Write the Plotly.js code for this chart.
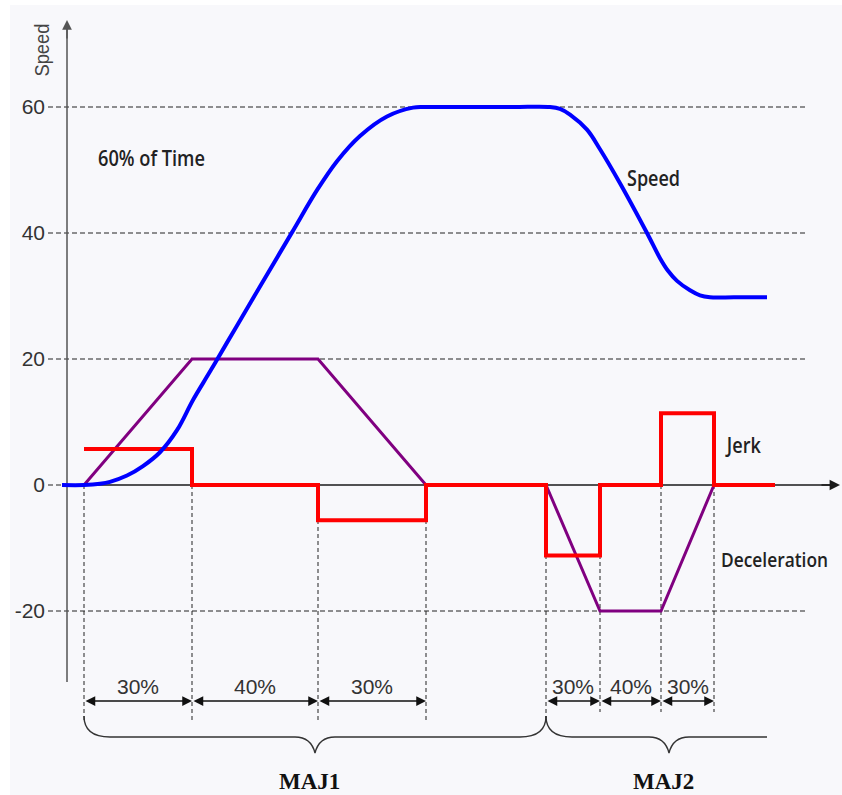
<!DOCTYPE html>
<html>
<head>
<meta charset="utf-8">
<script src="https://cdn.plot.ly/plotly-3.0.1.min.js"></script>
<style>html,body{margin:0;padding:0;background:#fff;}#chart{width:842px;height:795px;}</style>
</head>
<body>
<div id="chart"></div>
<script>
// ---- data (time in arbitrary units) ----
const phaseBounds = [0, 108, 234, 342, 462, 516, 577, 630];
const tEnd = 691;
const jerk = [5.7, 0, -5.6, 0, -11.2, 0, 11.4, 0];
const accel = [0, 20, 20, 0, 0, -20, -20, 0];
const speedT = [-22, 0, 16, 26, 43, 59, 76, 93, 109, 126, 143, 166, 176, 208, 233, 253, 276, 303, 329, 340, 380, 430, 466, 476, 486, 503, 516, 536, 563, 576, 584, 593, 606, 616, 626, 650, 683];
const speedV = [0, 0, 0.2, 0.5, 1.5, 3.0, 5.2, 8.7, 13.5, 18, 22.6, 28.8, 31.5, 40.1, 46.8, 51.4, 55.4, 58.5, 59.9, 60, 60, 60, 60, 59.7, 58.8, 56.4, 53.3, 47.9, 40, 36.0, 34.0, 32.4, 30.9, 30.1, 29.8, 29.8, 29.8];
const phaseStart = [0, 108, 234, 462, 516, 577];
const phaseEnd = [108, 234, 342, 516, 577, 630];
const phaseLabel = ['30%', '40%', '30%', '30%', '40%', '30%'];
const groupName = ['MAJ1', 'MAJ2'];
const groupStart = [0, 462];
const groupCusp = [231, 585];
const groupEnd = [462, 683];
const groupCurlEnd = [true, false];
const yTicks = [-20, 0, 20, 40, 60];
const yTickText = ['-20', '0', '20', '40', '60'];
const curveLabels = ['60% of Time', 'Speed', 'Jerk', 'Deceleration'];

// ---- pixel helpers for decorations ----
const X = p => p - 84;
const Y = p => (485 - p) / 6.3;
const ML = 46;

const jerkX = phaseBounds.concat([tEnd]);
const jerkY = jerk.concat([jerk[jerk.length - 1]]);

const traces = [
  {x: phaseBounds, y: accel, mode: 'lines', line: {color: '#800080', width: 3}, hoverinfo: 'skip'},
  {x: jerkX, y: jerkY, mode: 'lines', line: {color: '#ff0000', width: 4, shape: 'hv'}, hoverinfo: 'skip'},
  {x: speedT, y: speedV, mode: 'lines', line: {color: '#0000ff', width: 4, shape: 'spline', smoothing: 1}, hoverinfo: 'skip'}
];

const shapes = [];
// background panel
shapes.push({type: 'rect', xref: 'paper', yref: 'paper', x0: (10 - ML) / (842 - ML), x1: 1, y0: 0, y1: 1 - 5 / 795,
  fillcolor: '#f8f8fb', line: {width: 0}, layer: 'below'});
// grid lines
yTicks.forEach(v => {
  if (v === 0) return;
  shapes.push({type: 'line', xref: 'x', yref: 'y', x0: X(48), x1: X(805), y0: v, y1: v,
    line: {color: '#222', width: 1, dash: '5px,3px'}, layer: 'below'});
});
// zero stub left of axis
shapes.push({type: 'line', xref: 'x', yref: 'y', x0: X(48), x1: X(67), y0: 0, y1: 0,
  line: {color: '#222', width: 1, dash: '5px,3px'}, layer: 'below'});
// axes lines
shapes.push({type: 'line', xref: 'x', yref: 'y', x0: X(67), x1: X(834), y0: 0, y1: 0,
  line: {color: '#1a1a1a', width: 1.6}, layer: 'below'});
shapes.push({type: 'line', xref: 'x', yref: 'y', x0: X(67), x1: X(67), y0: Y(682), y1: Y(28),
  line: {color: '#555', width: 1.5}, layer: 'below'});
// drop lines at phase boundaries
phaseBounds.forEach((t, i) => {
  const bottom = i < 5 ? (i === 4 ? 718 : 720) : 712;
  shapes.push({type: 'line', xref: 'x', yref: 'y', x0: t, x1: t, y0: 0, y1: Y(bottom),
    line: {color: '#222', width: 1, dash: '4px,3px'}, layer: 'below'});
});
// braces
function bracePath(t0, tc, t1, curl) {
  const yT = Y(716), yH = Y(737), yC = Y(753);
  let p = `M ${t0},${yT} Q ${t0},${yH} ${t0 + 26},${yH} L ${tc - 20},${yH} Q ${tc - 4},${yH} ${tc},${yC} Q ${tc + 4},${yH} ${tc + 20},${yH}`;
  if (curl) p += ` L ${t1 - 26},${yH} Q ${t1},${yH} ${t1},${yT}`;
  else p += ` L ${t1},${yH}`;
  return p;
}
groupName.forEach((g, i) => {
  shapes.push({type: 'path', xref: 'x', yref: 'y', path: bracePath(groupStart[i], groupCusp[i], groupEnd[i], groupCurlEnd[i]),
    line: {color: '#333', width: 1.4}, layer: 'below'});
});

const annotations = [];
const arrowStyle = {arrowcolor: '#111', arrowwidth: 1.5, arrowhead: 2, arrowsize: 1.3, startarrowhead: 2, startarrowsize: 1.3};
// axis arrow tips
annotations.push(Object.assign({}, arrowStyle, {x: X(840), y: 0, ax: X(820), ay: 0, xref: 'x', yref: 'y', axref: 'x', ayref: 'y',
  text: '', showarrow: true, arrowside: 'end', arrowcolor: '#1a1a1a', arrowwidth: 1.6}));
annotations.push(Object.assign({}, arrowStyle, {x: X(67), y: Y(20), ax: X(67), ay: Y(40), xref: 'x', yref: 'y', axref: 'x', ayref: 'y',
  text: '', showarrow: true, arrowside: 'end', arrowcolor: '#555', arrowwidth: 1.5}));
// phase arrows + labels
phaseLabel.forEach((lab, i) => {
  annotations.push(Object.assign({}, arrowStyle, {x: phaseEnd[i], y: Y(701), ax: phaseStart[i], ay: Y(701),
    xref: 'x', yref: 'y', axref: 'x', ayref: 'y', text: '', showarrow: true, arrowside: 'end+start', standoff: 0, startstandoff: 0}));
  annotations.push({x: (phaseStart[i] + phaseEnd[i]) / 2, y: Y(686), xref: 'x', yref: 'y', text: lab, showarrow: false,
    xanchor: 'center', yanchor: 'middle', font: {family: 'Liberation Sans, Arial, sans-serif', size: 21, color: '#333'}});
});
// group labels
groupName.forEach((g, i) => {
  annotations.push({x: groupCusp[i] - 6, y: Y(781), xref: 'x', yref: 'y', text: g, showarrow: false,
    xanchor: 'center', yanchor: 'middle', font: {family: 'Liberation Serif, Times New Roman, serif', size: 23, color: '#111', weight: 'bold'}});
});
// curve labels (centre x, centre y, target text width in px, font size)
const labelPos = [[151.5, 157, 107, 22], [653.5, 177, 53, 22], [743, 444, 34, 22], [774.5, 560, 107, 19]];
curveLabels.forEach((txt, i) => {
  annotations.push({x: X(labelPos[i][0]), y: Y(labelPos[i][1]), xref: 'x', yref: 'y', text: txt, showarrow: false,
    width: labelPos[i][2] + 6, align: 'center',
    xanchor: 'center', yanchor: 'middle', font: {family: 'Open Sans, sans-serif', size: labelPos[i][3], color: '#222', weight: 600}});
});
// y axis title
annotations.push({x: (42 - ML) / (842 - ML), y: Y(50), xref: 'paper', yref: 'y', text: 'Speed', textangle: -90, showarrow: false,
  xanchor: 'center', yanchor: 'middle', font: {family: 'Liberation Sans, Arial, sans-serif', size: 20, color: '#444'}});

const layout = {
  width: 842, height: 795,
  margin: {l: ML, r: 0, t: 0, b: 0, pad: 0},
  paper_bgcolor: '#ffffff', plot_bgcolor: 'rgba(0,0,0,0)',
  showlegend: false,
  xaxis: {range: [X(ML), X(842)], visible: false, fixedrange: true},
  yaxis: {range: [Y(795), Y(0)], tickvals: yTicks, ticktext: yTickText, showgrid: false, zeroline: false,
    showline: false, ticks: '', automargin: false, fixedrange: true,
    tickfont: {family: 'Liberation Sans, Arial, sans-serif', size: 21, color: '#333'}},
  shapes: shapes,
  annotations: annotations
};

Plotly.newPlot('chart', traces, layout, {displayModeBar: false, staticPlot: true}).then(gd => {
  // condense the curve labels to the narrow width seen in the reference
  const widths = {};
  curveLabels.forEach((t, i) => { widths[t] = labelPos[i][2]; });
  gd.querySelectorAll('text.annotation-text').forEach(el => {
    const w = widths[el.textContent];
    if (w) {
      el.setAttribute('textLength', w);
      el.setAttribute('lengthAdjust', 'spacingAndGlyphs');
    }
  });
});
</script>
</body>
</html>
